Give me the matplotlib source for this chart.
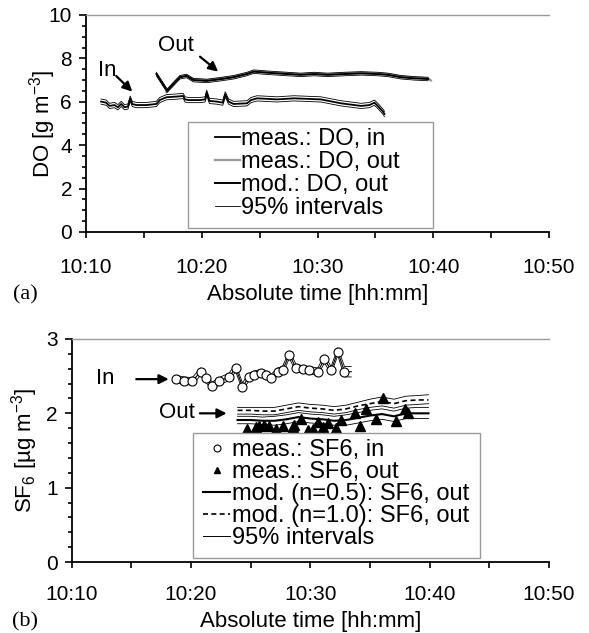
import numpy as np
import matplotlib
matplotlib.use("Agg")
import matplotlib.pyplot as plt
from matplotlib.ticker import MultipleLocator, FixedLocator
from matplotlib.patches import Rectangle
from matplotlib.lines import Line2D

plt.rcParams['font.family'] = ['Liberation Sans', 'DejaVu Sans']
plt.rcParams['mathtext.fontset'] = 'custom'
plt.rcParams['mathtext.rm'] = 'Liberation Sans'
plt.rcParams['mathtext.it'] = 'Liberation Sans:italic'

# --- time axis: minutes after 10:00 ---
tick_pos = [10, 20, 30, 40, 50]
tick_labels = ["10:10", "10:20", "10:30", "10:40", "10:50"]

# --- panel (a): dissolved oxygen ---
t_do_in = [11.30, 11.74, 12.03, 12.46, 12.75, 13.04, 13.33, 13.62, 13.82, 14.00,
           14.35, 15.21, 16.08, 16.37, 16.95, 17.82, 18.40, 18.55, 18.84, 19.85,
           20.29, 20.43, 20.66, 21.30, 21.82, 22.03, 22.32, 22.75, 23.91, 24.26,
           24.78, 26.52, 27.97, 30.29, 30.87, 32.03, 33.77, 34.49, 34.92, 35.21,
           35.65, 35.79]
do_in = [6.01, 5.96, 5.81, 5.85, 5.75, 5.90, 5.75, 5.78, 6.14, 5.90,
         5.85, 5.85, 5.90, 6.08, 6.21, 6.24, 6.27, 6.11, 6.08, 6.08,
         6.11, 6.42, 6.04, 6.01, 5.96, 6.34, 6.01, 5.90, 5.93, 6.08,
         6.16, 6.11, 6.16, 6.11, 6.05, 5.93, 5.81, 5.85, 5.96, 5.81,
         5.55, 5.44]
do_in_hi = [6.13, 6.08, 5.93, 5.97, 5.87, 6.02, 5.87, 5.90, 6.26, 6.02,
            5.97, 5.97, 6.02, 6.20, 6.33, 6.36, 6.39, 6.23, 6.20, 6.20,
            6.23, 6.54, 6.16, 6.13, 6.08, 6.46, 6.13, 6.02, 6.05, 6.20,
            6.28, 6.23, 6.28, 6.23, 6.17, 6.05, 5.93, 5.97, 6.08, 5.93,
            5.67, 5.56]
do_in_lo = [5.89, 5.84, 5.69, 5.73, 5.63, 5.78, 5.63, 5.66, 6.02, 5.78,
            5.73, 5.73, 5.78, 5.96, 6.09, 6.12, 6.15, 5.99, 5.96, 5.96,
            5.99, 6.30, 5.92, 5.89, 5.84, 6.22, 5.89, 5.78, 5.81, 5.96,
            6.04, 5.99, 6.04, 5.99, 5.93, 5.81, 5.69, 5.73, 5.84, 5.69,
            5.43, 5.32]

t_do_out_meas = [16.95, 17.53, 18.11, 18.69, 19.27, 20.43, 21.59, 22.75, 23.91, 24.49,
                 25.65, 27.39, 28.55, 29.71, 30.87, 32.32, 33.77, 35.21, 36.08, 37.24,
                 38.40, 39.56, 39.80]
do_out_meas = [6.45, 6.85, 7.16, 7.22, 7.04, 7.00, 7.07, 7.16, 7.30, 7.40,
               7.36, 7.30, 7.27, 7.30, 7.27, 7.30, 7.33, 7.30, 7.27, 7.16,
               7.11, 7.08, 6.98]

t_do_out_mod = [16.08, 17.01, 17.53, 18.11, 18.69, 19.27, 20.43, 21.59, 22.75, 23.91,
                24.49, 25.65, 27.39, 28.55, 29.71, 30.87, 32.32, 33.77, 35.21, 36.08,
                37.24, 38.40, 39.56]
do_out_mod = [7.28, 6.51, 6.80, 7.13, 7.19, 7.00, 6.96, 7.04, 7.13, 7.28,
              7.39, 7.34, 7.28, 7.24, 7.28, 7.24, 7.28, 7.31, 7.28, 7.24,
              7.13, 7.08, 7.05]
do_out_hi = [7.36, 6.59, 6.88, 7.21, 7.27, 7.08, 7.04, 7.12, 7.21, 7.36,
             7.47, 7.42, 7.36, 7.32, 7.36, 7.32, 7.36, 7.39, 7.36, 7.32,
             7.21, 7.16, 7.13]
do_out_lo = [7.20, 6.43, 6.72, 7.05, 7.11, 6.92, 6.88, 6.96, 7.05, 7.20,
             7.31, 7.26, 7.20, 7.16, 7.20, 7.16, 7.20, 7.23, 7.20, 7.16,
             7.05, 7.00, 6.97]

# --- panel (b): SF6 ---
t_sf6_in = [18.70, 19.40, 20.10, 20.80, 21.22, 21.78, 22.34, 23.18, 23.75, 24.31,
            24.87, 25.29, 25.85, 26.27, 26.69, 27.25, 27.67, 28.24, 28.80, 29.36,
            29.92, 30.62, 31.18, 31.74, 32.30, 32.86]
sf6_in = [2.46, 2.44, 2.43, 2.56, 2.47, 2.37, 2.43, 2.49, 2.61, 2.36,
          2.49, 2.52, 2.54, 2.52, 2.47, 2.56, 2.58, 2.79, 2.61, 2.59,
          2.58, 2.56, 2.73, 2.58, 2.83, 2.56]
t_sf6_in_line = t_sf6_in + [33.43]
sf6_in_line = sf6_in + [2.56]
sf6_in_hi = [2.51, 2.49, 2.48, 2.61, 2.52, 2.42, 2.48, 2.54, 2.66, 2.41,
             2.54, 2.57, 2.59, 2.57, 2.52, 2.61, 2.63, 2.84, 2.66, 2.64,
             2.63, 2.61, 2.78, 2.63, 2.88, 2.63, 2.63]
sf6_in_lo = [2.41, 2.39, 2.38, 2.51, 2.42, 2.32, 2.38, 2.44, 2.56, 2.31,
             2.44, 2.47, 2.49, 2.47, 2.42, 2.51, 2.53, 2.74, 2.56, 2.54,
             2.53, 2.51, 2.68, 2.53, 2.78, 2.49, 2.49]

t_sf6_out = [24.73, 25.43, 25.71, 26.13, 26.55, 27.11, 27.67, 28.52, 28.66, 29.22,
             29.78, 30.20, 30.62, 31.04, 31.46, 32.16, 32.58, 33.71, 34.13, 34.69,
             35.53, 36.09, 37.21, 37.92, 38.20]
sf6_out = [1.79, 1.81, 1.83, 1.84, 1.83, 1.79, 1.83, 1.82, 1.84, 1.92,
           1.78, 1.79, 1.89, 1.81, 1.87, 1.80, 1.91, 2.00, 1.83, 2.06,
           1.93, 2.20, 1.90, 2.06, 2.01]

t_mod = [23.9, 25.0, 26.0, 27.0, 28.0, 29.0, 30.0, 31.0, 32.0, 33.0,
         34.0, 35.0, 36.0, 37.0, 38.0, 39.0, 39.9]
mod05 = [1.91, 1.91, 1.90, 1.90, 1.92, 1.95, 1.93, 1.92, 1.90, 1.91,
         1.94, 1.97, 1.99, 1.96, 2.00, 2.00, 2.00]
mod05_hi = [1.96, 1.96, 1.95, 1.96, 1.98, 2.01, 1.99, 1.98, 1.96, 1.98,
            2.01, 2.04, 2.06, 2.03, 2.07, 2.08, 2.08]
mod05_lo = [1.86, 1.86, 1.85, 1.84, 1.86, 1.89, 1.87, 1.86, 1.84, 1.84,
            1.87, 1.90, 1.92, 1.89, 1.93, 1.93, 1.93]
mod10 = [2.04, 2.04, 2.03, 2.03, 2.06, 2.09, 2.07, 2.06, 2.04, 2.06,
         2.10, 2.13, 2.16, 2.13, 2.17, 2.18, 2.18]
mod10_hi = [2.08, 2.08, 2.08, 2.08, 2.11, 2.14, 2.12, 2.11, 2.09, 2.11,
            2.15, 2.19, 2.22, 2.19, 2.23, 2.24, 2.25]
mod10_lo = [1.99, 1.99, 1.98, 1.98, 2.01, 2.04, 2.02, 2.01, 1.99, 2.01,
            2.05, 2.08, 2.10, 2.07, 2.11, 2.12, 2.13]

GRAY = "#9a9a9a"
TICK_FS = 15
LAB_FS = 16
LEG_FS = 17


def style_axes(ax, ymax, ymaj, ymin, xpad):
    ax.set_xlim(10, 50)
    ax.set_ylim(0, ymax)
    ax.xaxis.set_major_locator(FixedLocator(tick_pos))
    ax.set_xticklabels(tick_labels)
    ax.xaxis.set_minor_locator(MultipleLocator(5))
    ax.yaxis.set_major_locator(MultipleLocator(ymaj))
    ax.yaxis.set_minor_locator(MultipleLocator(ymin))
    ax.spines['right'].set_visible(False)
    ax.spines['top'].set_color(GRAY)
    ax.spines['top'].set_linewidth(1.0)
    for s in ('left', 'bottom'):
        ax.spines[s].set_linewidth(1.3)
    ax.tick_params(which='both', direction='out', width=1.2, labelsize=TICK_FS)
    ax.tick_params(axis='y', which='major', length=5, pad=5)
    ax.tick_params(axis='y', which='minor', length=3)
    ax.tick_params(axis='x', which='both', length=4.5, pad=xpad)
    ax.tick_params(top=False, right=False, which='both')


def arrow(ax, tail, tip):
    ax.annotate('', xy=tip, xytext=tail,
                arrowprops=dict(arrowstyle='-|>', color='k', lw=1.6,
                                mutation_scale=14, shrinkA=0, shrinkB=0))


fig = plt.figure(figsize=(5.89, 6.33), dpi=100)
ax1 = fig.add_axes([86 / 589, 1 - 232 / 633, 463 / 589, 217 / 633])
ax2 = fig.add_axes([71.7 / 589, 1 - 562 / 633, 477.3 / 589, 223 / 633])

# ---------- panel (a) ----------
style_axes(ax1, 10, 2, 0.5, 14)
ax1.plot(t_do_in, do_in_hi, color='k', lw=0.6)
ax1.plot(t_do_in, do_in_lo, color='k', lw=0.6)
l_in, = ax1.plot(t_do_in, do_in, color='k', lw=1.3)
l_meas, = ax1.plot(t_do_out_meas, do_out_meas, color=GRAY, lw=1.6)
l_int, = ax1.plot(t_do_out_mod, do_out_hi, color='k', lw=0.6)
ax1.plot(t_do_out_mod, do_out_lo, color='k', lw=0.6)
l_mod, = ax1.plot(t_do_out_mod, do_out_mod, color='k', lw=1.4)

ax1.text(11.81, 7.44, "In", fontsize=16, ha='center', va='center')
arrow(ax1, (12.61, 7.19), (14.0, 6.47))
ax1.text(17.81, 8.59, "Out", fontsize=16, ha='center', va='center')
arrow(ax1, (19.85, 8.08), (21.42, 7.39))

ax1.add_patch(Rectangle((0.2203, 0.0184), 0.7495 - 0.2203, 0.5069 - 0.0184,
                        transform=ax1.transAxes, facecolor='white',
                        edgecolor=GRAY, lw=1.0, zorder=4))
leg1 = ax1.legend([l_in, l_meas, l_mod, l_int],
                  ["meas.: DO, in", "meas.: DO, out", "mod.: DO, out", "95% intervals"],
                  loc='upper left', bbox_to_anchor=(0.2786, 0.479), frameon=False,
                  borderpad=0, borderaxespad=0, handlelength=1.06, handletextpad=0.06,
                  labelspacing=0.04, fontsize=LEG_FS)
leg1.set_zorder(5)

ax1.set_ylabel("DO [g m$^{\\mathrm{-3}}$]", fontsize=LAB_FS)
ax1.yaxis.set_label_coords(-0.06, 0.5)
ax1.set_xlabel("Absolute time [hh:mm]", fontsize=LAB_FS)
ax1.xaxis.set_label_coords(0.5, (232 - 294.5) / 217)
ax1.xaxis.label.set_va('center')
fig.text(25 / 589, 1 - 294.5 / 633, "(a)", fontsize=16, family='Liberation Serif',
         ha='center', va='center')

# ---------- panel (b) ----------
style_axes(ax2, 3, 1, 0.2, 12)
ax2.plot(t_sf6_in_line, sf6_in_hi, color='k', lw=0.6)
ax2.plot(t_sf6_in_line, sf6_in_lo, color='k', lw=0.6)
ax2.plot(t_sf6_in_line, sf6_in_line, color='k', lw=0.8)
m_in, = ax2.plot(t_sf6_in, sf6_in, ls='none', marker='o', ms=6.5,
                 mfc='white', mec='k', mew=0.8)

ax2.plot(t_mod, mod10_hi, color='k', lw=0.6)
ax2.plot(t_mod, mod10_lo, color='k', lw=0.6)
l10, = ax2.plot(t_mod, mod10, color='k', lw=1.2, ls=(0, (3, 2)))
i05, = ax2.plot(t_mod, mod05_hi, color='k', lw=0.6)
ax2.plot(t_mod, mod05_lo, color='k', lw=0.6)
l05, = ax2.plot(t_mod, mod05, color='k', lw=1.5)
m_out, = ax2.plot(t_sf6_out, sf6_out, ls='none', marker='^', ms=6.5,
                  mfc='k', mec='k')

ax2.text(12.85, 2.47, "In", fontsize=16, ha='center', va='center')
arrow(ax2, (15.41, 2.46), (18.13, 2.46))
ax2.text(18.86, 2.01, "Out", fontsize=16, ha='center', va='center')
arrow(ax2, (20.74, 2.00), (22.99, 2.00))

ax2.add_patch(Rectangle((0.254, 0.018), 0.855 - 0.254, 0.5785 - 0.018,
                        transform=ax2.transAxes, facecolor='white',
                        edgecolor=GRAY, lw=1.0, zorder=4))
h_in = Line2D([], [], ls='none', marker='o', ms=5, mfc='white', mec='k', mew=0.8)
h_out = Line2D([], [], ls='none', marker='^', ms=5, mfc='k', mec='k')
h_int = Line2D([], [], color='k', lw=0.7)
leg2 = ax2.legend([h_in, h_out, l05, l10, h_int],
                  ["meas.: SF6, in", "meas.: SF6, out", "mod. (n=0.5): SF6, out",
                   "mod. (n=1.0): SF6, out", "95% intervals"],
                  loc='upper left', bbox_to_anchor=(0.275, 0.5516), frameon=False,
                  borderpad=0, borderaxespad=0, handlelength=1.15, handletextpad=0.08,
                  labelspacing=0.0, fontsize=LEG_FS)
leg2.set_zorder(5)

ax2.set_ylabel("SF$_{\\mathrm{6}}$ [µg m$^{\\mathrm{-3}}$]", fontsize=LAB_FS)
ax2.yaxis.set_label_coords(-0.066, 0.5)
ax2.set_xlabel("Absolute time [hh:mm]", fontsize=LAB_FS)
ax2.xaxis.set_label_coords(0.5, (562 - 622) / 223)
ax2.xaxis.label.set_va('center')
fig.text(25 / 589, 1 - 622 / 633, "(b)", fontsize=16, family='Liberation Serif',
         ha='center', va='center')

fig.savefig("out.png", dpi=100)
